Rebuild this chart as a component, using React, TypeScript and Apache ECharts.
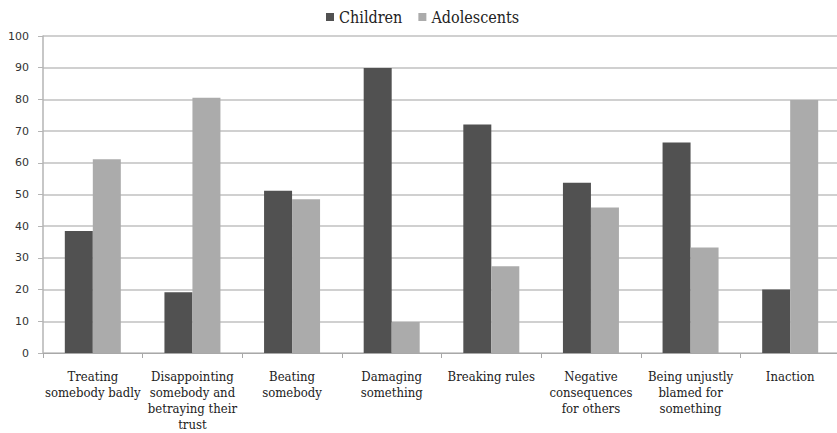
import React, { useEffect, useRef } from "react";
import * as echarts from "echarts";

const categories: string[] = [
  "Treating\nsomebody badly",
  "Disappointing\nsomebody and\nbetraying their\ntrust",
  "Beating\nsomebody",
  "Damaging\nsomething",
  "Breaking rules",
  "Negative\nconsequences\nfor others",
  "Being unjustly\nblamed for\nsomething",
  "Inaction",
];

const seriesNames: string[] = ["Children", "Adolescents"];
const childrenValues: number[] = [38.5, 19.2, 51.2, 89.9, 72.1, 53.7, 66.4, 20.0];
const adolescentValues: number[] = [61.1, 80.5, 48.5, 9.8, 27.4, 45.9, 33.3, 79.8];

const yMin = 0;
const yMax = 100;
const yInterval = 10;

export default function App() {
  const ref = useRef<HTMLDivElement>(null);

  useEffect(() => {
    if (!ref.current) return;
    const chart = echarts.init(ref.current, undefined, { renderer: "svg" });
    chart.setOption({
      animation: false,
      backgroundColor: "#ffffff",
      legend: {
        data: seriesNames,
        left: 326,
        top: 9,
        padding: 0,
        icon: "rect",
        itemWidth: 8,
        itemHeight: 8,
        itemGap: 16,
        textStyle: {
          fontFamily: "DejaVu Serif Condensed",
          fontSize: 16,
          color: "#222",
        },
      },
      grid: {
        left: 43,
        top: 36,
        width: 797,
        height: 317,
        containLabel: false,
        outerBoundsMode: "none",
      },
      xAxis: {
        type: "category",
        data: categories,
        axisLine: { lineStyle: { color: "#a8a8a8", width: 1 } },
        axisTick: { show: true, length: 5, lineStyle: { color: "#a8a8a8" } },
        axisLabel: {
          interval: 0,
          margin: 15,
          fontFamily: "DejaVu Serif Condensed",
          fontSize: 13,
          lineHeight: 16,
          color: "#222",
          align: "center",
        },
      },
      yAxis: {
        type: "value",
        min: yMin,
        max: yMax,
        interval: yInterval,
        axisLine: { show: true, lineStyle: { color: "#b5b5b5", width: 1.5 } },
        axisTick: { show: true, length: 5, lineStyle: { color: "#b5b5b5" } },
        axisLabel: {
          margin: 14,
          fontFamily: "DejaVu Sans",
          fontSize: 11,
          color: "#333",
        },
        splitLine: { show: true, lineStyle: { color: "#c0c0c0", width: 1.5 } },
      },
      series: [
        {
          name: seriesNames[0],
          type: "bar",
          data: childrenValues,
          barWidth: 28,
          barGap: "0%",
          itemStyle: { color: "#515151" },
        },
        {
          name: seriesNames[1],
          type: "bar",
          data: adolescentValues,
          barWidth: 28,
          barGap: "0%",
          itemStyle: { color: "#ababab" },
        },
      ],
    });
    return () => chart.dispose();
  }, []);

  return (
    <div
      ref={ref}
      style={{ position: "absolute", left: 0, top: 0, width: 837, height: 433 }}
    />
  );
}
